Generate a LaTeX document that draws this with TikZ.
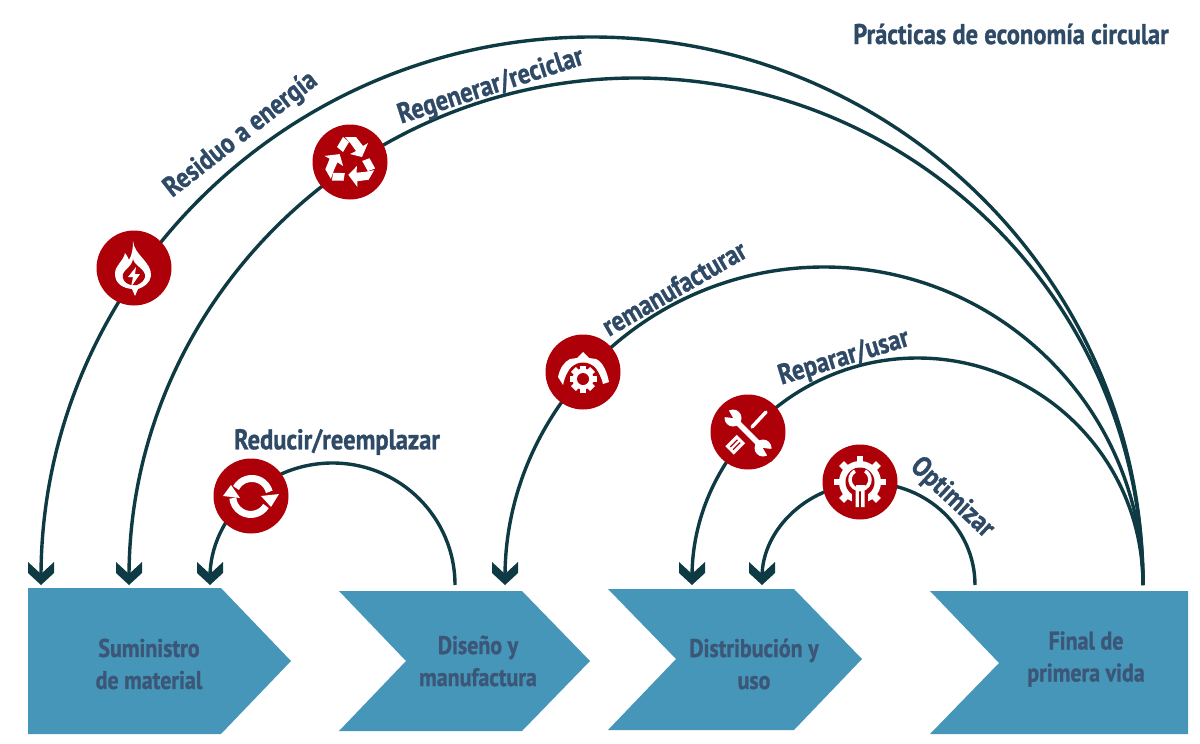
\documentclass[tikz,border=0pt]{standalone}
\usepackage{fontspec}
\setmainfont{PT Sans}[BoldFont={PT Sans Bold},BoldFeatures={FakeStretch=0.86,FakeBold=1.0}]
\definecolor{navy}{HTML}{2F4A66}
\definecolor{boxtext}{HTML}{3C5678}
\definecolor{boxblue}{HTML}{4596B8}
\definecolor{arcdark}{HTML}{0E3B43}
\definecolor{iconred}{HTML}{AE0009}
\pgfdeclarearrow{name=Chev,
  setup code={\pgfarrowssettipend{0pt}\pgfarrowssetlineend{-8pt}\pgfarrowssetvisualbackend{-23pt}\pgfarrowssetbackend{-23pt}\pgfarrowshullpoint{0pt}{0pt}\pgfarrowshullpoint{-23pt}{13pt}\pgfarrowshullpoint{-23pt}{-13pt}},
  drawing code={\pgfsetdash{}{0pt}\pgfpathmoveto{\pgfpointorigin}\pgfpathlineto{\pgfpoint{-12pt}{13pt}}\pgfpathlineto{\pgfpoint{-23pt}{13pt}}\pgfpathlineto{\pgfpoint{-11pt}{0pt}}\pgfpathlineto{\pgfpoint{-23pt}{-13pt}}\pgfpathlineto{\pgfpoint{-12pt}{-13pt}}\pgfpathclose\pgfusepathqfill}}
\tikzset{
  x=1pt,y=-1pt,
  arcline/.style={draw=arcdark,line width=3.4pt},
  arcarrow/.style={arcline,-Chev},
  iconcirc/.style={circle,fill=iconred,minimum size=75pt,inner sep=0pt},
  lab/.style={text=navy,font=\fontsize{28.5}{28}\selectfont\bfseries,inner sep=0pt},
  boxlab/.style={text=boxtext,font=\fontsize{25.5}{32}\selectfont\bfseries,align=center,inner sep=0pt},
  chev/.style={fill=boxblue},
  gearshape/.pic={
    \foreach \a in {0,45,...,315}{\fill[white,rotate=\a] (-3.4,-#1) rectangle (3.4,0);}
  },
  flameicon/.pic={
    \fill[white] (-1,-27) .. controls (0,-13) and (18,-6) .. (17,8) .. controls (16,15) and (10,19) .. (4,21) -- (1,28) -- (-2,21) .. controls (-12,20) and (-19,15) .. (-19,6) .. controls (-19,-3) and (-11,-6) .. (-9,-15) .. controls (-7,-12) and (-6,-11) .. (-5,-8) .. controls (-2,-13) and (-1,-19) .. (-1,-27) -- cycle;
    \fill[iconred] (-1,-9) .. controls (0,-2) and (12,1) .. (11,9) .. controls (10,13) and (7,15) .. (3,17) -- (-3,17) .. controls (-10,15) and (-12,11) .. (-11,6) .. controls (-10,2) and (-2,-1) .. (-1,-9) -- cycle;
    \fill[white] (2,-1) -- (-6,9) -- (-1,9) -- (-3,19) -- (6,6) -- (1,6) -- cycle;
  },
  recycleicon/.pic={
    \foreach \a in {0,120,240}{
      \begin{scope}[rotate=\a]
        \fill[white] (-13,-15) -- (-7,-25) -- (-1,-20) -- (-7,-10) -- cycle;
        \fill[white] (-5,-25) -- (6,-25) -- (13,-16) -- (18,-19) -- (12,-5) -- (0,-8) -- (6,-11) -- (1,-18) -- cycle;
      \end{scope}
    }
  },
  remanicon/.pic={
    \fill[white] (-25,5) .. controls (-23,-4) and (-19,-10) .. (-13,-13) -- (-6,-14) -- (0,-20) -- (6,-14) -- (13,-13) .. controls (20,-10) and (24,0) .. (26,10) -- (20,12) .. controls (18,4) and (15,-2) .. (10,-6) -- (-10,-6) .. controls (-15,-2) and (-18,4) .. (-20,13) -- cycle;
    \fill[iconred] (0,7) circle[radius=16.5pt];
    \begin{scope}[yshift=-7pt]
      \pic {gearshape=13.5};
      \fill[white] (0,0) circle[radius=10.5pt];
      \fill[iconred] (0,0) circle[radius=6pt];
    \end{scope}
  },
  toolsicon/.pic={
    \draw[white,line width=3.5pt,line cap=round] (18,-20) -- (4,-5);
    \fill[white,rotate=-45] (-6,10) rectangle (6,26);
    \draw[iconred,line width=1.2pt,rotate=-45] (-2,13) -- (-2,23) (2,13) -- (2,23);
    \draw[iconred,line width=9pt] (-12,-11) -- (12,13);
    \draw[white,line width=5.5pt] (-12,-11) -- (12,13);
    \fill[white] (-15,-14) circle[radius=8.5pt] (15,16) circle[radius=8.5pt];
    \fill[iconred] (-15,-14) -- (-23,-28) -- (-33,-16) -- cycle;
    \fill[iconred] (15,16) -- (23,30) -- (33,18) -- cycle;
  },
  gearwrenchicon/.pic={
    \pic {gearshape=26};
    \fill[white] (0,0) circle[radius=21pt];
    \fill[iconred] (0,0) circle[radius=14.5pt];
    \fill[iconred] (-8,5) rectangle (8,27);
    \draw[white,line width=3.5pt] (-5,-11) arc[start angle=120,end angle=420,radius=10pt];
    \fill[white] (-4.5,5) rectangle (-1.2,25) (1.2,5) rectangle (4.5,25);
    \fill[white] (-4.5,3) rectangle (4.5,8);
    \fill[iconred] (-5,-14) -- (5,-14) -- (3,-3) -- (-3,-3) -- cycle;
  },
  refreshicon/.pic={
    \draw[white,line width=7pt] (-15,-8) arc[start angle=152,end angle=15,radius=18pt];
    \fill[white] (10,0) -- (28,-2) -- (20,11) -- cycle;
    \draw[white,line width=7pt] (15,10) arc[start angle=-32,end angle=-175,radius=18pt];
    \fill[white] (-28,0) -- (-11,2) -- (-20,-11) -- cycle;
  }
}
\begin{document}
\begin{tikzpicture}
\useasboundingbox (0,0) rectangle (1200,744);
\fill[white] (0,0) rectangle (1200,744);

% chevrons
\fill[chev] (28,588) -- (221,588) -- (291,661) -- (221,734) -- (28,734) -- cycle;
\fill[chev] (339,591) -- (522,591) -- (590,661) -- (522,731) -- (339,731) -- (406,661) -- cycle;
\fill[chev] (608,589) -- (794,589) -- (862,659) -- (794,730) -- (608,730) -- (676,659) -- cycle;
\fill[chev] (930,591) -- (1188,591) -- (1188,734) -- (930,734) -- (999,663) -- cycle;

\node[boxlab] (sumin) at (149,664) {Suministro\\de material};
\node[boxlab] (disen) at (478,661) {Diseño y\\manufactura};
\node[boxlab] (distr) at (754,664) {Distribución y\\uso};
\node[boxlab] (final) at (1086,659) {Final de\\primera vida};

% connector ends
\coordinate (finA) at (1143,585);
\coordinate (finB) at (975,585);
\coordinate (disB) at (455,585);

% connectors
\draw[arcarrow] (finA) arc[start angle=0,end angle=180,x radius=551pt,y radius=548pt];
\draw[arcarrow] (finA) arc[start angle=0,end angle=180,x radius=507pt,y radius=507pt];
\draw[arcarrow] (finA) arc[start angle=0,end angle=180,x radius=319pt,y radius=318pt];
\draw[arcarrow] (finA) arc[start angle=0,end angle=180,x radius=225.5pt,y radius=227pt];
\draw[arcarrow] (finB) arc[start angle=0,end angle=180,x radius=106.5pt,y radius=102pt];
\draw[arcarrow] (disB) arc[start angle=0,end angle=180,x radius=122.5pt,y radius=122pt];

% icons
\node[iconcirc] (flame) at (134,268) {};
\node[iconcirc] (recyc) at (350,162) {};
\node[iconcirc] (reman) at (583,372) {};
\node[iconcirc] (tools) at (748,432) {};
\node[iconcirc] (optim) at (860,482) {};
\node[iconcirc] (reduc) at (251,496) {};
\pic at (flame) {flameicon};
\pic at (recyc) {recycleicon};
\pic at (reman) {remanicon};
\pic at (tools) {toolsicon};
\pic at (optim) {gearwrenchicon};
\pic at (reduc) {refreshicon};

% labels
\node[lab] (tTitle) at (1011,34) {Prácticas de economía circular};
\node[lab,rotate=38] (tResid) at (241,135) {Residuo a energía};
\node[lab,rotate=18] (tRegen) at (491,87) {Regenerar/reciclar};
\node[lab,rotate=30] (tReman) at (674,288) {remanufacturar};
\node[lab,rotate=17] (tRepar) at (844,358) {Reparar/usar};
\node[lab,rotate=-43] (tOptim) at (952,498) {Optimizar};
\node[lab] (tReduc) at (337,442) {Reducir/reemplazar};
\end{tikzpicture}
\end{document}
